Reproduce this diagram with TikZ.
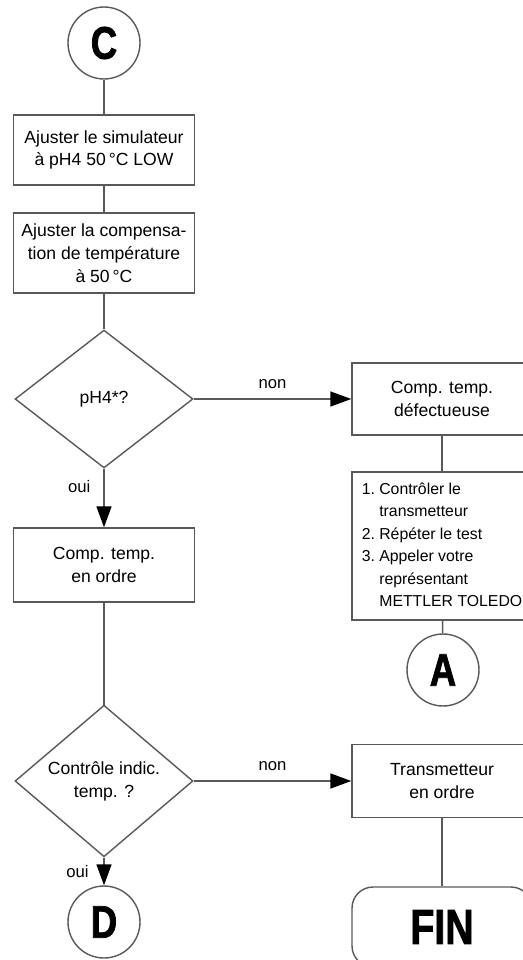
\documentclass[tikz,border=0pt]{standalone}
\usepackage{fontspec}
\setmainfont{Liberation Sans}
\newfontfamily\markfont[FakeStretch=0.8, FakeBold=1.6]{Liberation Sans Bold}
\usetikzlibrary{shapes.geometric,arrows.meta}

\tikzset{
    flow/.style={draw=black!65, line width=0.8pt},
    arrow/.style={flow, -{Triangle[length=0.42cm, width=0.3cm, black]}},
    box/.style={flow, minimum width=3.62cm, inner sep=2pt, align=center,
        font=\fontsize{10}{13}\selectfont},
    decision/.style={flow, diamond, minimum width=3.56cm, minimum height=2.76cm,
        inner sep=0pt, align=center, font=\fontsize{10}{13}\selectfont},
    connector/.style={flow, circle, minimum size=1.44cm, inner sep=0pt,
        font=\markfont\fontsize{26}{26}\selectfont},
    terminal/.style={flow, rounded corners=0.42cm, minimum width=3.6cm,
        minimum height=1.6cm, font=\markfont\fontsize{28}{28}\selectfont},
    tag/.style={font=\fontsize{9.5}{11}\selectfont}
}

\begin{document}
\begin{tikzpicture}[x=0.02cm, y=-0.02cm]

    \useasboundingbox (0,0) rectangle (523,960);

    \node[connector] (C) at (104,43) {C};
    \node[box, minimum height=1.4cm] (sim) at (104,150) {Ajuster le simulateur\\à pH4 50\,°C LOW};
    \node[box, minimum height=1.6cm] (comp) at (104,253) {Ajuster la compensa-\\tion de température\\à 50\,°C};
    \node[decision] (ph) at (104,399) {pH4*?};
    \node[box, minimum width=3.6cm, minimum height=1.44cm] (defect) at (442,399) {Comp. temp.\\défectueuse};
    \node[box, minimum width=3.6cm, minimum height=2.96cm, font=\fontsize{9}{12.8}\selectfont] (todo) at (442,546)
        {\begin{tabular}{@{}l@{\ }l@{}}
            1. & Contrôler le\\
               & transmetteur\\
            2. & Répéter le test\\
            3. & Appeler votre\\
               & représentant\\
               & METTLER TOLEDO
        \end{tabular}};
    \node[connector] (A) at (443,670) {A};
    \node[box, minimum height=1.48cm] (ok) at (104,565) {Comp. temp.\\en ordre};
    \node[decision] (ctrl) at (104,781) {Contrôle indic.\\temp. ?};
    \node[box, minimum width=3.6cm, minimum height=1.46cm] (trans) at (442,781) {Transmetteur\\en ordre};
    \node[connector] (D) at (104,922) {D};
    \node[terminal] (fin) at (442,927) {FIN};

    \draw[flow] (C) -- (sim);
    \draw[flow] (sim) -- (comp);
    \draw[flow] (comp) -- (ph);
    \draw[arrow] (ph) -- node[above=2pt, tag] {non} (defect);
    \draw[arrow] (ph) -- node[left=4pt, pos=0.3, tag] {oui} (ok);
    \draw[flow] (defect) -- (todo);
    \draw[flow] (todo) -- (A);
    \draw[flow] (ok) -- (ctrl);
    \draw[arrow] (ctrl) -- node[above=2pt, tag] {non} (trans);
    \draw[arrow] (ctrl) -- node[left=5pt, tag] {oui} (D);
    \draw[flow] (trans) -- (fin);
        \end{tikzpicture}
\end{document}
